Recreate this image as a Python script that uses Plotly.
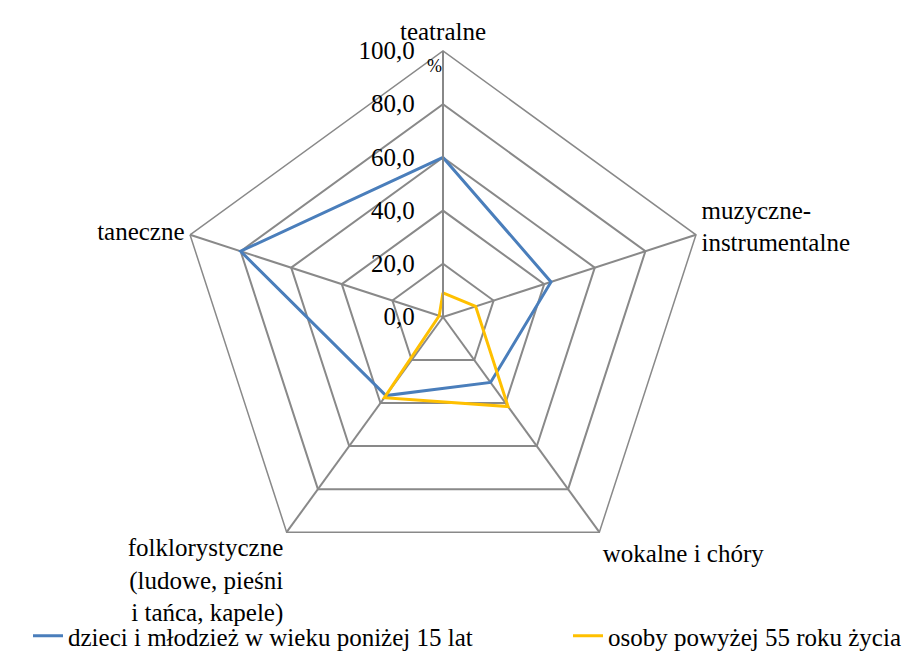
import plotly.graph_objects as go

categories = ["teatralne", "muzyczne-<br>instrumentalne", "wokalne i chóry",
              "folklorystyczne<br>(ludowe, pieśni<br>i tańca, kapele)", "taneczne"]
children = [60.0, 42.7, 30.4, 36.5, 80.0]
seniors = [9.1, 12.9, 41.6, 37.5, 1.5]
series_names = ["dzieci i młodzież w wieku poniżej 15 lat", "osoby powyżej 55 roku życia"]
tick_vals = [0, 20, 40, 60, 80, 100]
tick_text = ["0,0", "20,0", "40,0", "60,0", "80,0", "100,0"]

FONT = "Times New Roman, Liberation Serif, serif"
FS = 25
PAD = "\u00a0" * 3

# the page body has an 8px default margin: work in figure coordinates
OFF = 8
W, H = 914 - OFF, 653 - OFF
cx, cy, R = 443 - OFF, 317 - OFF, 266

fig = go.Figure()
for i, (name, vals, col) in enumerate([(series_names[0], children, "#4A7EBB"),
                                       (series_names[1], seniors, "#FFC000")]):
    fig.add_trace(go.Scatterpolar(
        r=vals + vals[:1], theta=categories + categories[:1],
        mode="lines", name=name, line=dict(color=col, width=3),
        legend="legend" if i == 0 else "legend2", showlegend=True,
    ))

leg_common = dict(orientation="h", xref="container", yref="container",
                  xanchor="left", yanchor="middle", font=dict(family=FONT, size=FS),
                  bgcolor="rgba(0,0,0,0)")
fig.update_layout(
    width=W, height=H, margin=dict(l=0, r=0, t=0, b=0, autoexpand=False),
    showlegend=True,
    paper_bgcolor="white", plot_bgcolor="white",
    font=dict(family=FONT, size=FS, color="black"),
    polar=dict(
        domain=dict(x=[(cx - R) / W, (cx + R) / W], y=[(H - cy - R) / H, (H - cy + R) / H]),
        gridshape="linear",
        bgcolor="white",
        radialaxis=dict(range=[0, 100], tickvals=tick_vals, ticktext=[t + PAD for t in tick_text],
                        angle=90, tickangle=90, side="counterclockwise",
                        showline=True, linecolor="#898989", linewidth=1.5,
                        gridcolor="#898989", gridwidth=1.5, ticks="",
                        tickfont=dict(family=FONT, size=FS)),
        angularaxis=dict(rotation=90, direction="clockwise",
                         showline=True, linecolor="#898989", linewidth=1.5,
                         gridcolor="#898989", gridwidth=1.5, ticks="",
                         tickfont=dict(family=FONT, size=FS)),
    ),
    legend=dict(x=20 / W, y=1 - 628 / H, **leg_common),
    legend2=dict(x=560 / W, y=1 - 628 / H, **leg_common),
    annotations=[dict(text="%", x=(434 - OFF) / W, y=1 - (66 - OFF) / H,
                      xref="paper", yref="paper", xanchor="center", yanchor="middle",
                      showarrow=False, font=dict(family=FONT, size=18))],
)
fig.write_html("out.html")
